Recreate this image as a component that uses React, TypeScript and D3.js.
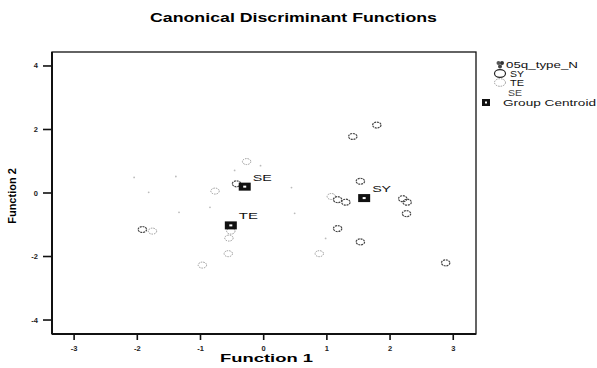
import React from "react";
import * as d3 from "d3";

const xTicks = [-3, -2, -1, 0, 1, 2, 3];
const yTicks = [-4, -2, 0, 2, 4];

// Group SY (dark circles)
const syX = [1.79, 1.41, 1.53, 1.17, 1.30, 2.20, 2.27, 2.26, 1.17, 1.53, 2.88, -0.43, -1.92];
const syY = [2.14, 1.78, 0.37, -0.21, -0.29, -0.18, -0.29, -0.65, -1.12, -1.54, -2.2, 0.29, -1.15];
// Group TE (light dotted circles)
const teX = [-0.27, -0.77, -1.76, -0.52, -0.55, -0.56, -0.97, 0.88, 1.07];
const teY = [0.99, 0.06, -1.2, -1.2, -1.42, -1.91, -2.27, -1.91, -0.11];
// Group SE (very faint marks)
const seX = [-2.05, -1.39, -1.82, -1.34, -0.85, -0.05, -0.46, 0.44, 0.49, 0.98];
const seY = [0.49, 0.52, 0.02, -0.61, -0.45, 0.86, 0.71, 0.17, -0.64, -1.43];
// Group centroids
const centroidLabels = ["SE", "TE", "SY"];
const centroidX = [-0.3, -0.52, 1.59];
const centroidY = [0.2, -1.02, -0.16];

const legendLabels = ["SY", "TE", "SE"];

const W = 597;
const H = 368;
const L = 52, R = 476, T = 52, B = 334;

export default function App() {
  const x = d3.scaleLinear().domain([-3.35, 3.36]).range([L, R]);
  const y = d3.scaleLinear().domain([-4.44, 4.44]).range([B, T]);
  const font = "Arial, 'Liberation Sans', sans-serif";

  return (
    <svg width={W} height={H} style={{ position: "absolute", left: 0, top: 0, background: "#fff" }} fontFamily={font}>
      <rect x={0} y={0} width={W} height={H} fill="#fff" />
      {/* Title */}
      <text x={150} y={22} fontSize={12.5} fontWeight="bold" textLength={287} lengthAdjust="spacingAndGlyphs" fill="#000">
        Canonical Discriminant Functions
      </text>

      {/* Frame */}
      <rect x={L} y={T} width={R - L} height={B - T} fill="none" stroke="#111" strokeWidth={1.3} />
      <line x1={L} y1={T} x2={L} y2={B} stroke="#111" strokeWidth={2} />
      <line x1={L} y1={B} x2={R} y2={B} stroke="#111" strokeWidth={2} />

      {/* X ticks */}
      {xTicks.map((t) => (
        <g key={"xt" + t}>
          <line x1={x(t)} x2={x(t)} y1={B} y2={B + 6} stroke="#111" strokeWidth={1.6} />
          <text x={x(t)} y={351} fontSize={7.5} fontWeight="bold" textAnchor="middle" fill="#222">{t}</text>
        </g>
      ))}
      {/* Y ticks */}
      {yTicks.map((t) => (
        <g key={"yt" + t}>
          <line x1={L - 9} x2={L} y1={y(t)} y2={y(t)} stroke="#111" strokeWidth={1.6} />
          <text x={38} y={y(t) + 2.5} fontSize={7.5} fontWeight="bold" textAnchor="end" fill="#222">{t}</text>
        </g>
      ))}

      {/* Axis titles */}
      <text x={220} y={362} fontSize={11.5} fontWeight="bold" textLength={93} lengthAdjust="spacingAndGlyphs" fill="#000">
        Function 1
      </text>
      <text transform="translate(16,196) rotate(-90)" fontSize={11} fontWeight="bold" textAnchor="middle" fill="#000">
        Function 2
      </text>

      {/* SE faint points */}
      {seX.map((v, i) => (
        <circle key={"se" + i} cx={x(v)} cy={y(seY[i])} r={0.9} fill="#bbb" />
      ))}
      {/* TE light circles */}
      {teX.map((v, i) => (
        <ellipse key={"te" + i} cx={x(v)} cy={y(teY[i])} rx={4.2} ry={3} fill="none" stroke="#999" strokeWidth={1} strokeDasharray="1.5,1" />
      ))}
      {/* SY dark circles */}
      {syX.map((v, i) => (
        <ellipse key={"sy" + i} cx={x(v)} cy={y(syY[i])} rx={4.2} ry={3} fill="none" stroke="#444" strokeWidth={1.2} strokeDasharray="2,0.8" />
      ))}

      {/* Centroids */}
      {centroidX.map((v, i) => (
        <g key={"c" + i}>
          <rect x={x(v) - 6} y={y(centroidY[i]) - 4} width={12} height={8} fill="#111" />
          <rect x={x(v) - 1.5} y={y(centroidY[i]) - 1} width={3} height={2} fill="#fff" />
          <text x={x(v) + 8} y={y(centroidY[i]) - 6} fontSize={9.5} fill="#111" textLength={19} lengthAdjust="spacingAndGlyphs">
            {centroidLabels[i]}
          </text>
        </g>
      ))}

      {/* Legend */}
      <g>
        <circle cx={498.5} cy={63} r={2} fill="#555" />
        <circle cx={502} cy={63} r={2} fill="#333" />
        <circle cx={500} cy={66.5} r={2} fill="#444" />
        <text x={506} y={68} fontSize={8.5} fill="#111" textLength={72} lengthAdjust="spacingAndGlyphs">05q_type_N</text>

        <ellipse cx={500} cy={73.5} rx={5.5} ry={3.8} fill="none" stroke="#222" strokeWidth={1.2} />
        <text x={510} y={77} fontSize={9} fill="#111" textLength={14} lengthAdjust="spacingAndGlyphs">{legendLabels[0]}</text>

        <ellipse cx={500} cy={82.5} rx={5.5} ry={3.8} fill="none" stroke="#999" strokeWidth={1} strokeDasharray="1.5,1" />
        <text x={510} y={86} fontSize={9} fill="#111" textLength={14} lengthAdjust="spacingAndGlyphs">{legendLabels[1]}</text>

        <text x={508} y={96} fontSize={9} fill="#444" textLength={14} lengthAdjust="spacingAndGlyphs">{legendLabels[2]}</text>

        <rect x={482} y={99} width={8} height={7} fill="#111" />
        <rect x={485} y={101.5} width={2} height={2} fill="#fff" />
        <text x={503} y={106} fontSize={8.5} fill="#111" textLength={93} lengthAdjust="spacingAndGlyphs">Group Centroid</text>
      </g>
    </svg>
  );
}
